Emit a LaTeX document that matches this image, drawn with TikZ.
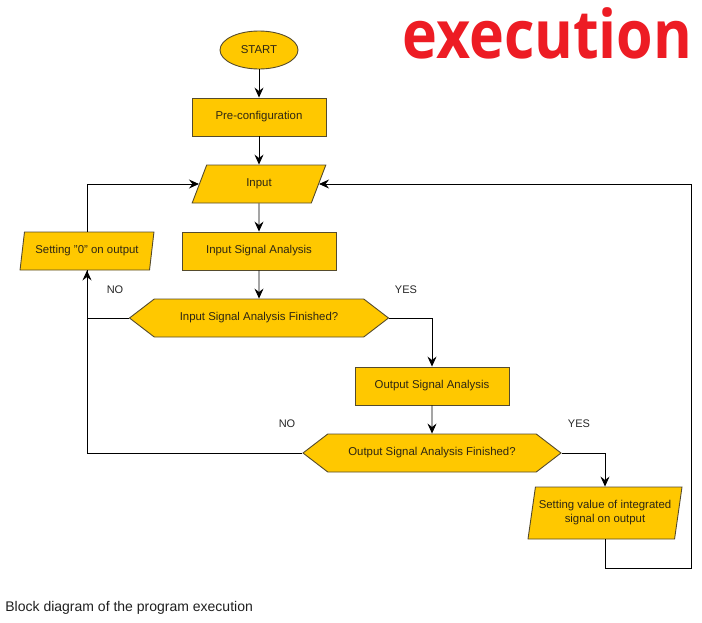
\documentclass[tikz,border=0pt]{standalone}
\usepackage{fontspec}
\setmainfont{Liberation Sans}
\newfontfamily\headfont{Open Sans}
\usepackage{tikz}
\usetikzlibrary{shapes.geometric}
\usetikzlibrary{shapes.symbols}
\usetikzlibrary{arrows.meta}

\definecolor{boxfill}{RGB}{255,200,0}
\definecolor{boxline}{RGB}{85,75,45}
\definecolor{headred}{RGB}{237,28,36}
\definecolor{boxtext}{RGB}{45,38,20}

\tikzset{
  chart/.style={draw=boxline, fill=boxfill, text=boxtext, line width=0.9pt,
    font=\fontsize{11.4}{14}\selectfont, inner sep=0pt},
  terminal/.style={chart, ellipse, minimum width=78pt, minimum height=38pt},
  process/.style={chart, rectangle, minimum width=154pt, minimum height=38pt},
  io/.style={chart, trapezium, trapezium left angle=71, trapezium right angle=109,
    trapezium stretches=true, minimum width=134pt, minimum height=38pt},
  decision/.style={chart, signal, signal to=west and east, signal pointer angle=75,
    minimum width=259pt, minimum height=38pt},
  answer/.style={font=\fontsize{11}{13}\selectfont, text=black!85}
}

\begin{document}
\begin{tikzpicture}[x=1pt,y=-1pt,>={Stealth[length=10pt,width=9pt,inset=3.5pt]},line width=0.8pt]
        \useasboundingbox (0,0) rectangle (702,622);
        % draw the title and the caption
        \node[anchor=base west, text=headred, font=\headfont\bfseries\fontsize{67}{72}\selectfont,
          inner sep=0pt] (title) at (402,58) {\resizebox{290pt}{\height}{execution}};
        \node[anchor=base west, font=\fontsize{14}{16}\selectfont, text=black!88,
          inner sep=0pt] (caption) at (5,611) {Block diagram of the program execution};
        % draw the blocks
        \node[terminal] (start) at (259,50) {START};
        \node[process, minimum width=134pt] (pre) at (259,117) {Pre-configuration};
        \node[io] (input) at (259,184) {Input};
        \node[process] (isa) at (259,251) {Input Signal Analysis};
        \node[io] (zero) at (87,251) {Setting "0" on output};
        \node[decision] (dec1) at (259,318) {Input Signal Analysis Finished?};
        \node[process] (osa) at (432,386) {Output Signal Analysis};
        \node[decision, minimum width=258pt] (dec2) at (432,453) {Output Signal Analysis Finished?};
        \node[io, minimum width=154pt, minimum height=52pt, trapezium left angle=74,
          trapezium right angle=106, align=center] (outv) at (605,513)
          {Setting value of integrated\\signal on output};
        \coordinate (loop) at (691,568);
        % draw the answers
        \node[answer] (no1) at (115,290) {NO};
        \node[answer] (yes1) at (406,290) {YES};
        \node[answer] (no2) at (287,424) {NO};
        \node[answer] (yes2) at (579,424) {YES};
        % draw the connections
        \draw[->] (start) -- (pre);
        \draw[->] (pre) -- (input);
        \draw[->] (input) -- (isa);
        \draw[->] (isa) -- (dec1);
        \draw[->] (dec1.east) -| (osa.north);
        \draw[->] (osa) -- (dec2);
        \draw[->] (dec2.east) -| (outv.north);
        \draw[->] (outv.south) |- (loop) |- (input.east);
        \draw[->] (dec1.west) -| (zero.south);
        \draw (dec2.west) -| (zero.south);
        \draw[->] (zero.north) |- (input.west);
    \end{tikzpicture}
\end{document}
